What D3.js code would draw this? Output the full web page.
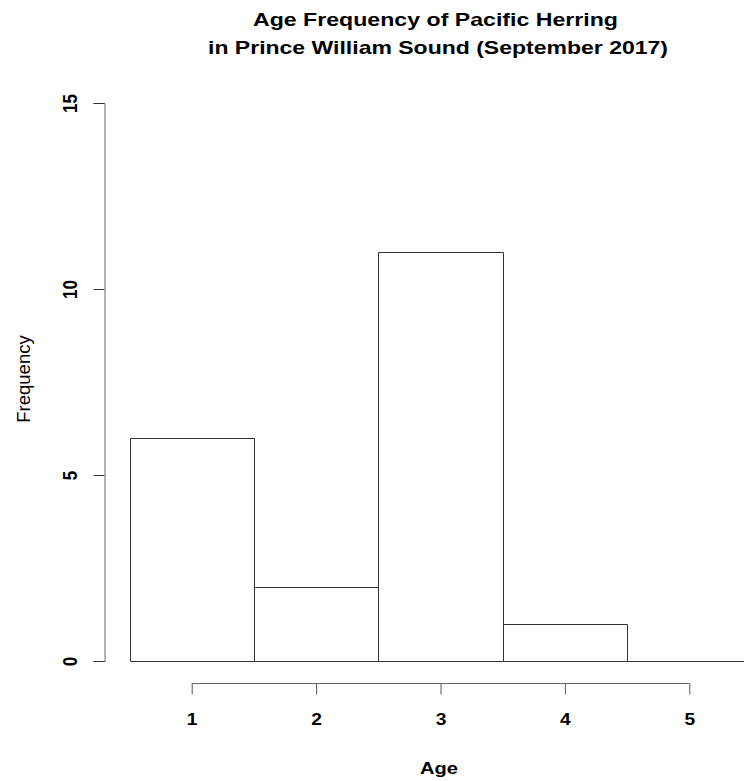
<!DOCTYPE html>
<html>
<head>
<meta charset="utf-8">
<script src="https://cdn.jsdelivr.net/npm/d3@7"></script>
<style>
  html, body { margin: 0; padding: 0; background: #fff; }
  svg { display: block; }
</style>
</head>
<body>
<svg id="chart" width="744" height="781"></svg>
<script>
// Herring age counts, September 2017 sample
const ages = [1, 2, 3, 4, 5];
const counts = [6, 2, 11, 1, 0];
const yTicks = [0, 5, 10, 15];
const titleLines = ["Age Frequency of Pacific Herring", "in Prince William Sound (September 2017)"];

const svg = d3.select("#chart");

// Bars are unit-wide bins centred on each age
const x = d3.scaleLinear().domain([0.5, 5.5]).range([129.5, 751.5]);
const y = d3.scaleLinear().domain([0, 15]).range([661, 103]);

const font = "'Liberation Sans', Arial, Helvetica, sans-serif";
const stretch = 1.2; // text is drawn slightly wide

// Bars as closed outlines, so an empty bin still shows its base line
svg.append("g").selectAll("path")
  .data(ages.map((a, i) => ({ age: a, n: counts[i] })))
  .join("path")
  .attr("d", d => {
    const x0 = Math.round(x(d.age - 0.5)) + 0.5;
    const x1 = Math.round(x(d.age + 0.5)) + 0.5;
    const y0 = Math.round(y(0)) + 0.5;
    const y1 = Math.round(y(d.n)) + 0.5;
    return `M${x0},${y0}V${y1}H${x1}V${y0}Z`;
  })
  .attr("fill", "#fff")
  .attr("stroke", "#333")
  .attr("stroke-width", 1);

// Y axis
const yAxis = svg.append("g")
  .attr("transform", "translate(104.5,0)")
  .call(d3.axisLeft(y).tickValues(yTicks).tickSize(11).tickFormat(d3.format("d")));
yAxis.select(".domain").attr("stroke", "#666");
yAxis.selectAll(".tick line").attr("stroke", "#333");
yAxis.selectAll(".tick text")
  .attr("x", 0).attr("dy", null)
  .attr("transform", `translate(-27.5,0) scale(${stretch},1) rotate(-90)`)
  .attr("text-anchor", "middle")
  .attr("font-family", font)
  .attr("font-size", 17)
  .attr("font-weight", "bold")
  .attr("fill", "#000");

// X axis
const xAxis = svg.append("g")
  .attr("transform", "translate(0,683.5)")
  .call(d3.axisBottom(x).tickValues(ages).tickSize(11).tickFormat(d3.format("d")));
xAxis.select(".domain").attr("d", `M${x(1)},0H${x(5)}`).attr("stroke", "#666");
xAxis.selectAll(".tick line").attr("stroke", "#555");
xAxis.selectAll(".tick text")
  .attr("y", 0).attr("dy", null)
  .attr("transform", `translate(0,41.5) scale(${stretch},1)`)
  .attr("font-family", font)
  .attr("font-size", 16)
  .attr("font-weight", "bold")
  .attr("fill", "#000");

// Title
const titleWidths = [365, 460];
svg.append("g").selectAll("text")
  .data(titleLines)
  .join("text")
  .attr("x", (d, i) => [435.5, 438][i])
  .attr("y", (d, i) => 26 + i * 28)
  .attr("text-anchor", "middle")
  .attr("font-family", font)
  .attr("font-size", 19)
  .attr("font-weight", "bold")
  .attr("textLength", (d, i) => titleWidths[i])
  .attr("lengthAdjust", "spacingAndGlyphs")
  .text(d => d);

// Axis titles
svg.append("text")
  .attr("x", 439).attr("y", 774)
  .attr("text-anchor", "middle")
  .attr("font-family", font)
  .attr("font-size", 17)
  .attr("font-weight", "bold")
  .attr("textLength", 38)
  .attr("lengthAdjust", "spacingAndGlyphs")
  .text("Age");

svg.append("text")
  .attr("transform", "translate(29.5,379) rotate(-90)")
  .attr("text-anchor", "middle")
  .attr("font-family", font)
  .attr("font-size", 18.5)
  .text("Frequency");
</script>
</body>
</html>
